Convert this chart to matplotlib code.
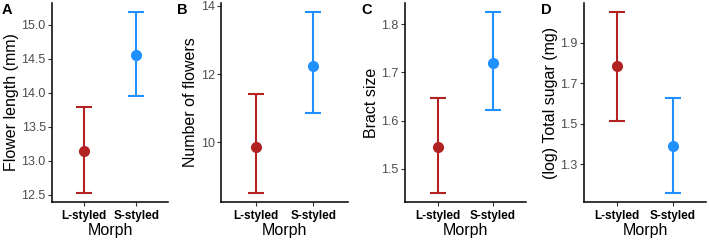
import matplotlib.pyplot as plt

plt.rcParams['font.family'] = ['Liberation Sans', 'DejaVu Sans']

morphs = ['L-styled', 'S-styled']
colors = ['#B22222', '#1E90FF']

panels = ['A', 'B', 'C', 'D']
ylabels = ['Flower length (mm)', 'Number of flowers', 'Bract size', '(log) Total sugar (mg)']

# means and lower / upper interval ends per morph
means = [[13.15, 14.56], [9.87, 12.25], [1.546, 1.720], [1.784, 1.392]]
lower = [[12.53, 13.96], [8.52, 10.86], [1.450, 1.622], [1.512, 1.157]]
upper = [[13.79, 15.19], [11.43, 13.82], [1.647, 1.825], [2.053, 1.629]]
yticks = [[12.5, 13.0, 13.5, 14.0, 14.5, 15.0], [10, 12, 14],
          [1.5, 1.6, 1.7, 1.8], [1.3, 1.5, 1.7, 1.9]]
ytick_fmt = ['{:.1f}', '{:.0f}', '{:.1f}', '{:.1f}']

W, H = 709, 241
fig = plt.figure(figsize=(W / 100, H / 100), dpi=100)

# axes pixel extents (left, right) and panel letter x
extents = [(52, 168), (221, 348), (405, 526), (584, 706)]
letter_x = [2, 177, 361, 541]
top_px, bot_px = 3, 202

for i in range(4):
    l, r = extents[i]
    ax = fig.add_axes([l / W, (H - bot_px) / H, (r - l) / W, (bot_px - top_px) / H])
    for j in range(2):
        m = means[i][j]
        ax.errorbar(j, m, yerr=[[m - lower[i][j]], [upper[i][j] - m]],
                    fmt='o', color=colors[j], ms=7, elinewidth=1.5,
                    capsize=5.5, capthick=1.5)
    lo = min(lower[i])
    hi = max(upper[i])
    pad = 0.05 * (hi - lo)
    ax.set_ylim(lo - pad, hi + pad)
    ax.set_xlim(-0.6, 1.6)
    ax.set_xticks([0, 1])
    ax.set_xticklabels(morphs, fontsize=8.5, fontweight='bold', color='black')
    ax.set_yticks(yticks[i])
    ax.set_yticklabels([ytick_fmt[i].format(v) for v in yticks[i]], fontsize=9, color='#4D4D4D')
    ax.tick_params(length=3, width=0.8, color='#333333', pad=1.5)
    ax.tick_params(axis='x', pad=2.5)
    for s in ['top', 'right']:
        ax.spines[s].set_visible(False)
    for s in ['left', 'bottom']:
        ax.spines[s].set_linewidth(1.1)
    ax.set_xlabel('Morph', fontsize=11.5, labelpad=1)
    ax.set_ylabel(ylabels[i], fontsize=11.5, labelpad=2)
    fig.text(letter_x[i] / W, 1 - 3 / H, panels[i], fontsize=10.5, fontweight='bold',
             ha='left', va='top')

fig.savefig('out.png', dpi=100)
